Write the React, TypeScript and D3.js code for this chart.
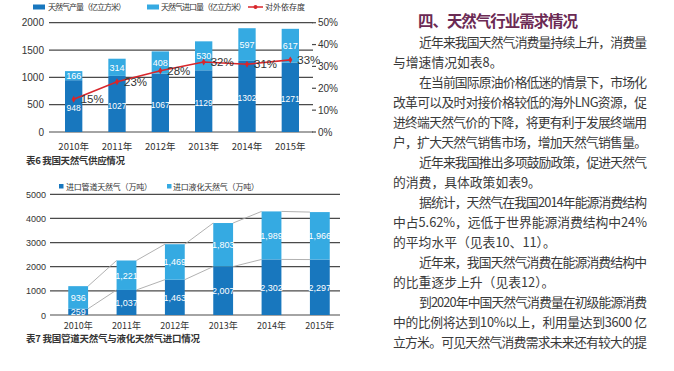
import * as d3 from 'd3';

const YEARS = ['2010年', '2011年', '2012年', '2013年', '2014年', '2015年'];
// 表6
const OUTPUT = [948, 1027, 1067, 1129, 1302, 1271];
const IMPORT = [166, 314, 408, 530, 597, 617];
const DEPEND = [0.15, 0.23, 0.28, 0.32, 0.31, 0.33];
const L_TICKS = [0, 500, 1000, 1500, 2000];
const R_TICKS = [0, 0.1, 0.2, 0.3, 0.4, 0.5];
// 表7
const PIPE = [259, 1037, 1463, 2007, 2302, 2297];
const LNG = [936, 1221, 1469, 1803, 1989, 1966];
const T7_TICKS = [0, 1000, 2000, 3000, 4000, 5000];

const TITLE = '四、天然气行业需求情况';
// [text, indented, justified]
const LINES: [string, boolean, boolean][] = [
  ['近年来我国天然气消费量持续上升，消费量', true, true],
  ['与增速情况如表8。', false, false],
  ['在当前国际原油价格低迷的情景下，市场化', true, true],
  ['改革可以及时对接价格较低的海外LNG资源，促', false, true],
  ['进终端天然气价的下降，将更有利于发展终端用', false, true],
  ['户，扩大天然气销售市场，增加天然气销售量。', false, true],
  ['近年来我国推出多项鼓励政策，促进天然气', true, true],
  ['的消费，具体政策如表9。', false, false],
  ['据统计，天然气在我国2014年能源消费结构', true, true],
  ['中占5.62%，远低于世界能源消费结构中24%', false, true],
  ['的平均水平（见表10、11）。', false, false],
  ['近年来，我国天然气消费在能源消费结构中', true, true],
  ['的比重逐步上升（见表12）。', false, false],
  ['到2020年中国天然气消费量在初级能源消费', true, true],
  ['中的比例将达到10%以上，利用量达到3600 亿', false, true],
  ['立方米。可见天然气消费需求未来还有较大的提', false, true],
];

const DARK = '#1877be';
const LIGHT = '#35aae2';
const RED = '#d8262b';
const GRID = '#4a4a4a';
const SANS = '"Liberation Sans", Arial, sans-serif';
const CJK = '"Noto Sans CJK SC", sans-serif';

function Chart6() {
  const x = d3.scaleBand<string>().domain(YEARS).range([52, 312]).paddingInner(0.6).paddingOuter(0.3);
  const y = d3.scaleLinear().domain([0, 2000]).range([132, 22.7]);
  const yr = d3.scaleLinear().domain([0, 0.5]).range([132, 22.7]);
  const bw = x.bandwidth();
  const cx = (d: string) => (x(d) ?? 0) + bw / 2;
  const line = d3.line<number>().x((_, i) => cx(YEARS[i])).y(v => yr(v));

  return (
    <g>
      {/* legend */}
      <g fontFamily={CJK} fontSize={8} fill="#333">
        <rect x={33} y={4.5} width={12} height={5} fill={DARK} />
        <text x={48} y={10} textLength={78} lengthAdjust="spacing">天然气产量（亿立方米）</text>
        <rect x={147} y={4.5} width={12} height={5} fill={LIGHT} />
        <text x={161} y={10} textLength={85} lengthAdjust="spacing">天然气进口量（亿立方米）</text>
        <line x1={248} x2={263} y1={7} y2={7} stroke={RED} strokeWidth={1.5} />
        <circle cx={255.5} cy={7} r={2} fill={RED} />
        <text x={265} y={10} textLength={40} lengthAdjust="spacing">对外依存度</text>
      </g>

      {L_TICKS.map(t => (
        <g key={t}>
          <line x1={49} x2={313} y1={y(t)} y2={y(t)} stroke={GRID} strokeWidth={1.2} />
          <text x={44} y={y(t) + 3.5} textAnchor="end" fontFamily={SANS} fontSize={10} fill="#333">{t}</text>
        </g>
      ))}
      {R_TICKS.map(t => (
        <g key={t}>
          <line x1={312} x2={316} y1={yr(t)} y2={yr(t)} stroke={GRID} strokeWidth={1.2} />
          <text x={318} y={yr(t) + 3.5} fontFamily={SANS} fontSize={10} fill="#333">{d3.format('.0%')(t)}</text>
        </g>
      ))}

      {YEARS.map((d, i) => {
        const x0 = x(d) ?? 0;
        const top = OUTPUT[i] + IMPORT[i];
        return (
          <g key={d}>
            <rect x={x0} y={y(OUTPUT[i])} width={bw} height={y(0) - y(OUTPUT[i])} fill={DARK} />
            <rect x={x0} y={y(top)} width={bw} height={y(OUTPUT[i]) - y(top)} fill={LIGHT} />
            <text x={cx(d)} y={(y(0) + y(OUTPUT[i])) / 2 + 5} textAnchor="middle" fontFamily={SANS} fontSize={8.5} fill="#fff">{OUTPUT[i]}</text>
            <text x={cx(d)} y={(y(OUTPUT[i]) + y(top)) / 2 + 3.3} textAnchor="middle" fontFamily={SANS} fontSize={9} fill="#fff">{IMPORT[i]}</text>
            <text x={cx(d)} y={150} textAnchor="middle" fontFamily={CJK} fontSize={9.5} fill="#333">{d}</text>
          </g>
        );
      })}

      <path d={line(DEPEND) ?? ''} fill="none" stroke={RED} strokeWidth={1.6} />
      {DEPEND.map((v, i) => (
        <g key={i}>
          <path d={d3.symbol(d3.symbolDiamond, 14)() ?? ''} transform={`translate(${cx(YEARS[i])},${yr(v)})`} fill={RED} />
          <text x={cx(YEARS[i]) + 7} y={yr(v) + 4} fontFamily={SANS} fontSize={11.5} fill="#333">{d3.format('.0%')(v)}</text>
        </g>
      ))}

      <text x={26} y={164} fontFamily={CJK} fontWeight="bold" fontSize={9.5} fill="#333" textLength={99} lengthAdjust="spacing">表6 我国天然气供应情况</text>
    </g>
  );
}

function Chart7() {
  const x = d3.scaleBand<string>().domain(YEARS).range([54, 344]).paddingInner(0.59).paddingOuter(0.295);
  const y = d3.scaleLinear().domain([0, 5000]).range([315, 194.3]);
  const bw = x.bandwidth();
  const cx = (d: string) => (x(d) ?? 0) + bw / 2;
  const fmt = d3.format(',');
  const totals = PIPE.map((p, i) => p + LNG[i]);

  return (
    <g>
      <g fontFamily={CJK} fontSize={8} fill="#333">
        <rect x={59} y={184} width={4.5} height={4.5} fill={DARK} />
        <text x={66} y={189.5} textLength={86} lengthAdjust="spacing">进口管道天然气（万吨）</text>
        <rect x={167} y={184} width={4.5} height={4.5} fill={LIGHT} />
        <text x={173} y={189.5} textLength={86} lengthAdjust="spacing">进口液化天然气（万吨）</text>
      </g>

      {T7_TICKS.map(t => (
        <g key={t}>
          <line x1={50} x2={340} y1={y(t)} y2={y(t)} stroke={GRID} strokeWidth={1.2} />
          <text x={46} y={y(t) + 3.5} textAnchor="end" fontFamily={SANS} fontSize={9} fill="#333">{t}</text>
        </g>
      ))}

      {/* series lines */}
      {YEARS.slice(0, -1).map((d, i) => {
        const x1 = (x(d) ?? 0) + bw;
        const x2 = x(YEARS[i + 1]) ?? 0;
        return (
          <g key={'s' + d} stroke="#a8a8a8" strokeWidth={0.9}>
            <line x1={x1} x2={x2} y1={y(PIPE[i])} y2={y(PIPE[i + 1])} />
            <line x1={x1} x2={x2} y1={y(totals[i])} y2={y(totals[i + 1])} />
          </g>
        );
      })}

      {YEARS.map((d, i) => {
        const x0 = x(d) ?? 0;
        return (
          <g key={d}>
            <rect x={x0} y={y(PIPE[i])} width={bw} height={y(0) - y(PIPE[i])} fill={DARK} />
            <rect x={x0} y={y(totals[i])} width={bw} height={y(PIPE[i]) - y(totals[i])} fill={LIGHT} />
            <text x={cx(d)} y={(y(0) + y(PIPE[i])) / 2 + 3.3} textAnchor="middle" fontFamily={SANS} fontSize={9} fill="#fff">{fmt(PIPE[i])}</text>
            <text x={cx(d)} y={(y(PIPE[i]) + y(totals[i])) / 2 + 3.3} textAnchor="middle" fontFamily={SANS} fontSize={9} fill="#fff">{fmt(LNG[i])}</text>
            <text x={cx(d)} y={329} textAnchor="middle" fontFamily={CJK} fontSize={9} fill="#333">{d}</text>
          </g>
        );
      })}

      <text x={26} y={342} fontFamily={CJK} fontWeight="bold" fontSize={9.5} fill="#333" textLength={174} lengthAdjust="spacing">表7 我国管道天然气与液化天然气进口情况</text>
    </g>
  );
}

function Article() {
  return (
    <g fontFamily={CJK}>
      <text x={418} y={27} fontSize={15.5} fontWeight="bold" fill="#6b2a54" textLength={160} lengthAdjust="spacing">{TITLE}</text>
      {LINES.map(([t, indent, just], i) => {
        const x0 = indent ? 419 : 393;
        return (
          <text
            key={i}
            x={x0}
            y={42.5 + i * 20 + 4.6}
            fontSize={12.8}
            fill="#3a3a3a"
            textLength={just ? 647 - x0 : undefined}
            lengthAdjust="spacing"
          >{t}</text>
        );
      })}
    </g>
  );
}

export default function App() {
  return (
    <div style={{ position: 'absolute', left: 0, top: 0 }}>
      <svg width={674} height={371} viewBox="0 0 674 371" style={{ display: 'block', background: '#fff' }}>
        <Chart6 />
        <Chart7 />
        <Article />
      </svg>
    </div>
  );
}
